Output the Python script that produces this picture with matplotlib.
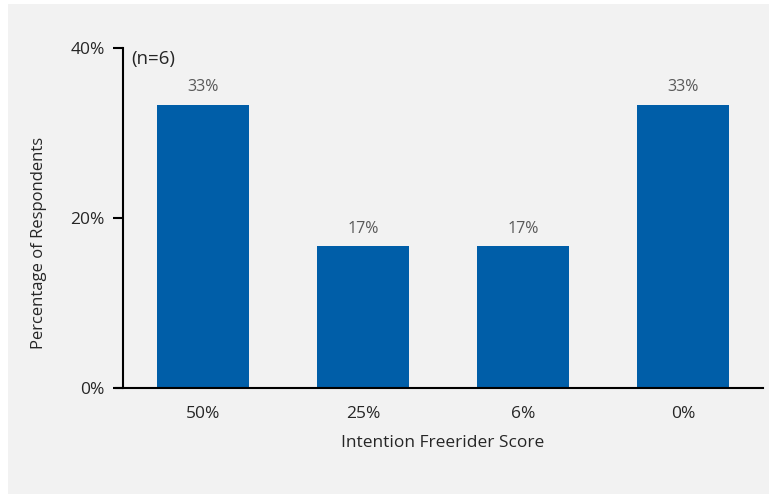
import matplotlib
matplotlib.use("Agg")
import matplotlib.pyplot as plt
from matplotlib.patches import Rectangle

categories = ["50%", "25%", "6%", "0%"]
shares = [2 / 6, 1 / 6, 1 / 6, 2 / 6]
bar_labels = ["33%", "17%", "17%", "33%"]
y_ticks = [0, 0.2, 0.4]
y_tick_labels = ["0%", "20%", "40%"]

plt.rcParams["font.family"] = ["Open Sans", "DejaVu Sans"]

fig = plt.figure(figsize=(7.69, 4.94), dpi=100)
fig.patch.set_facecolor("white")
fig.patches.append(Rectangle((8 / 769, 0), 1, 1 - 4 / 494, transform=fig.transFigure,
                             facecolor="#f2f2f2", edgecolor="none", zorder=-10))

ax = fig.add_axes([123 / 769, 1 - 388 / 494, 640 / 769, 340 / 494])
ax.set_facecolor("none")

x = range(len(categories))
bars = ax.bar(x, shares, width=0.57, color="#005EA8")
for b, lab in zip(bars, bar_labels):
    ax.text(b.get_x() + b.get_width() / 2, b.get_height() + 0.011, lab,
            ha="center", va="bottom", fontsize=11.5, color="#595959")

ax.set_xlim(-0.5, len(categories) - 0.5)
ax.set_ylim(0, 0.4)
ax.set_xticks(list(x))
ax.set_xticklabels(categories, fontsize=12.5, color="#262626")
ax.set_yticks(y_ticks)
ax.set_yticklabels(y_tick_labels, fontsize=12.5, color="#262626")
ax.tick_params(axis="x", length=0, pad=13)
ax.tick_params(axis="y", length=7, width=1.5, pad=6)

for s in ["top", "right"]:
    ax.spines[s].set_visible(False)
ax.spines["left"].set_linewidth(1.5)
ax.spines["bottom"].set_linewidth(1.5)
ax.spines["bottom"].set_bounds(-0.5 - 7 / 160, len(categories) - 0.5)
ax.spines["bottom"].set_clip_on(False)

ax.set_xlabel("Intention Freerider Score", fontsize=12.5, color="#262626", labelpad=9)
ax.set_ylabel("Percentage of Respondents", fontsize=12, color="#262626")
ax.yaxis.set_label_coords(-0.118, 0.426)
ax.text(0.013, 0.995, "(n=6)", transform=ax.transAxes, fontsize=13.5, color="#262626",
        ha="left", va="top")

fig.savefig("out.png", dpi=100)
